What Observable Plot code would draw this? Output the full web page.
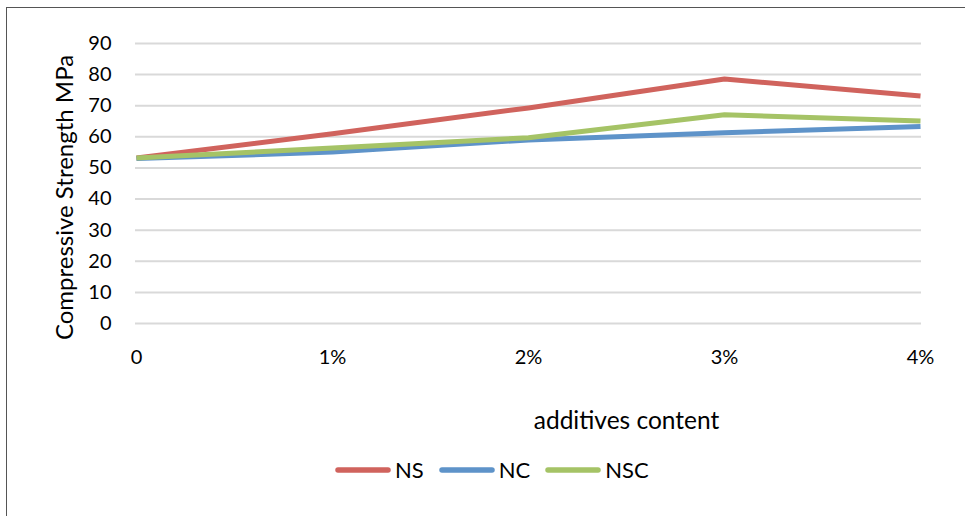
<!DOCTYPE html>
<html><head><meta charset="utf-8">
<script src="https://cdn.jsdelivr.net/npm/d3@7"></script>
<script src="https://cdn.jsdelivr.net/npm/@observablehq/plot@0.6"></script>
<style>
body{margin:0;background:#fff;font-family:Lato,sans-serif;}
#wrap{position:relative;width:965px;height:516px;overflow:hidden;background:#fff;}
#frame{position:absolute;left:6px;top:7px;width:980px;height:540px;border-left:1.5px solid #555;border-top:1.5px solid #555;pointer-events:none;}
#legend{position:absolute;top:456px;left:335px;display:flex;align-items:center;font-size:22px;color:#000;}
#legend .item{display:flex;align-items:center;margin-right:15px;}
#legend svg{margin-right:4px;}
</style></head><body>
<div id="wrap"><div id="chart"></div><div id="legend"></div><div id="frame"></div></div>
<script>
const categories = ["0", "1%", "2%", "3%", "4%"];
const seriesNames = ["NS", "NC", "NSC"];
const NS  = [53.2, 61.0, 69.3, 78.6, 73.1];
const NC  = [53.0, 55.1, 59.0, 61.3, 63.3];
const NSC = [53.2, 56.4, 59.7, 67.1, 65.1];
const yTicks = [0, 10, 20, 30, 40, 50, 60, 70, 80, 90];
const colors = ["#D0635D", "#5E93C9", "#A5C366"];
const yTitle = "Compressive Strength MPa";
const xTitle = "additives content";

const seriesValues = [NS, NC, NSC];
const data = [];
seriesValues.forEach((vals, i) => vals.forEach((v, j) => data.push({series: seriesNames[i], x: categories[j], y: v})));

const chart = Plot.plot({
  width: 965, height: 445,
  marginLeft: 135, marginRight: 44, marginTop: 43, marginBottom: 122,
  style: {fontFamily: "Lato, sans-serif", background: "transparent", color: "#000"},
  x: {type: "point", domain: categories, padding: 0},
  y: {domain: [0, 90]},
  color: {domain: seriesNames, range: colors},
  marks: [
    Plot.gridY(yTicks, {stroke: "#d9d9d9", strokeOpacity: 1, strokeWidth: 2}),
    Plot.axisY(yTicks, {tickSize: 0, tickPadding: 24, fontSize: 20, label: null}),
    Plot.axisX({tickSize: 0, tickPadding: 26, fontSize: 20, label: null}),
    Plot.lineY(data, {x: "x", y: "y", z: "series", stroke: "series", strokeWidth: 5, strokeLinejoin: "round", strokeLinecap: "butt"}),
    Plot.text([yTitle], {frameAnchor: "left", textAnchor: "middle", lineAnchor: "middle", rotate: -90, dx: -70, dy: 14, fontSize: 24, fill: "#000"}),
    Plot.text([xTitle], {frameAnchor: "bottom", textAnchor: "middle", lineAnchor: "middle", dx: 98, dy: 98, fontSize: 24.5, fill: "#000"})
  ]
});
document.getElementById("chart").appendChild(chart);

const legend = d3.select("#legend");
seriesNames.forEach((name, i) => {
  const item = legend.append("div").attr("class", "item");
  const s = item.append("svg").attr("width", 56).attr("height", 10);
  s.append("line").attr("x1", 3).attr("x2", 53).attr("y1", 5).attr("y2", 5)
    .attr("stroke", colors[i]).attr("stroke-width", 5.5).attr("stroke-linecap", "round");
  item.append("span").text(name);
});
</script>
</body></html>
